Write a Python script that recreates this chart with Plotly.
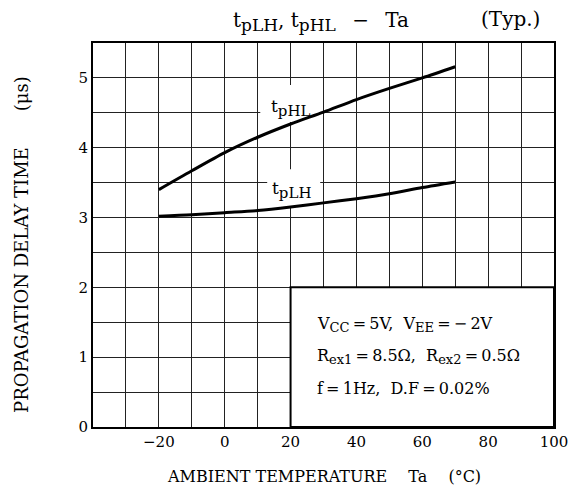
import plotly.graph_objects as go

# Data
ta = [-20, -10, 0, 10, 20, 30, 40, 50, 60, 70]
tphl = [3.40, 3.67, 3.93, 4.15, 4.34, 4.51, 4.69, 4.85, 5.00, 5.16]
tplh = [3.02, 3.04, 3.07, 3.10, 3.15, 3.21, 3.27, 3.34, 3.43, 3.51]

# grid positions (every 10 degC / 0.5 us); labels only on some
x_tickvals = [-40, -30, -20, -10, 0, 10, 20, 30, 40, 50, 60, 70, 80, 90, 100]
x_ticktext = ["", "", "\u221220", "", "0", "", "20", "", "40", "", "60", "", "80", "", "100"]
y_tickvals = [0, 0.5, 1, 1.5, 2, 2.5, 3, 3.5, 4, 4.5, 5, 5.5]
y_ticktext = ["0", "", "1", "", "2", "", "3", "", "4", "", "5", ""]

FONT = "DejaVu Serif"
GRID = "#222222"
BLACK = "black"


def sub(s, px):
    return '<sub><span style="font-size:%dpx">%s</span></sub>' % (px, s)


fig = go.Figure()
for name, ys in [("tpHL", tphl), ("tpLH", tplh)]:
    fig.add_trace(go.Scatter(x=ta, y=ys, mode="lines", name=name,
                             line=dict(color=BLACK, width=3, shape="spline", smoothing=0.8),
                             showlegend=False, hoverinfo="skip"))

# white condition box in lower right covering the grid
fig.add_shape(type="rect", x0=20, x1=100, y0=0, y1=2, xref="x", yref="y",
              fillcolor="white", line=dict(color=BLACK, width=2), layer="above")

# white patches behind the curve labels (over grid, under curves)
fig.add_shape(type="rect", x0=10.8, x1=29.0, y0=4.37, y1=4.90, xref="x", yref="y",
              fillcolor="white", line=dict(width=0), layer="between")
fig.add_shape(type="rect", x0=12.9, x1=29.0, y0=3.16, y1=3.69, xref="x", yref="y",
              fillcolor="white", line=dict(width=0), layer="between")

# curve labels
fig.add_annotation(x=20, y=4.57, xref="x", yref="y", text="t" + sub("pHL", 15), showarrow=False,
                   font=dict(family=FONT, size=17, color=BLACK))
fig.add_annotation(x=20.5, y=3.39, xref="x", yref="y", text="t" + sub("pLH", 15), showarrow=False,
                   font=dict(family=FONT, size=17, color=BLACK))

# conditions text
cond = ["V" + sub("CC", 13) + "\u2009=\u20095V,  V" + sub("EE", 13) + "\u2009=\u2009\u2212\u20092V",
        "R" + sub("ex1", 13) + "\u2009=\u20098.5\u03a9,  R" + sub("ex2", 13) + "\u2009=\u20090.5\u03a9",
        "f\u2009=\u20091Hz,  D.F\u2009=\u20090.02%"]
cond_y = [1.47, 1.01, 0.55]
for t, yv in zip(cond, cond_y):
    fig.add_annotation(x=27.5, y=yv, xref="x", yref="y", text=t, showarrow=False,
                       xanchor="left", yanchor="middle",
                       font=dict(family=FONT, size=16, color=BLACK))

# title
fig.add_annotation(x=0.495, y=1.0, xref="paper", yref="paper", yshift=22,
                   text="t" + sub("pLH", 17) + ", t" + sub("pHL", 17) + "\u2002 \u2212 \u2002Ta", showarrow=False,
                   xanchor="center", yanchor="middle", font=dict(family=FONT, size=20, color=BLACK))
fig.add_annotation(x=0.975, y=1.0, xref="paper", yref="paper", yshift=24,
                   text="(Typ.)", showarrow=False,
                   xanchor="right", yanchor="middle", font=dict(family=FONT, size=20, color=BLACK))

# axis titles
fig.add_annotation(x=0.5, y=0, xref="paper", yref="paper", yshift=-49,
                   text="AMBIENT TEMPERATURE\u2003 Ta\u2003 (\u00b0C)", showarrow=False,
                   xanchor="center", yanchor="middle", font=dict(family=FONT, size=16, color=BLACK))
fig.add_annotation(x=0, y=0.474, xref="paper", yref="paper", xshift=-71,
                   text="PROPAGATION DELAY TIME\u2003\u2003(\u03bcs)", showarrow=False, textangle=-90,
                   xanchor="center", yanchor="middle", font=dict(family=FONT, size=18, color=BLACK))

fig.update_xaxes(range=[-40, 100], tickvals=x_tickvals, ticktext=x_ticktext,
                 showgrid=True, gridcolor=GRID, gridwidth=1, automargin=False,
                 showline=True, linecolor=BLACK, linewidth=2, mirror=True,
                 ticks="", zeroline=False, layer="below traces",
                 tickfont=dict(family=FONT, size=15, color=BLACK))
fig.update_yaxes(range=[0, 5.5], tickvals=y_tickvals, ticktext=y_ticktext,
                 showgrid=True, gridcolor=GRID, gridwidth=1, automargin=False,
                 showline=True, linecolor=BLACK, linewidth=2, mirror=True,
                 ticks="", zeroline=False, layer="below traces",
                 tickfont=dict(family=FONT, size=15, color=BLACK))

fig.update_layout(width=579, height=494, margin=dict(l=93, r=25, t=43, b=67),
                  paper_bgcolor="white", plot_bgcolor="white", showlegend=False)

fig.write_html("out.html", config={"displayModeBar": False},
               post_script="document.body.style.margin='0';")
